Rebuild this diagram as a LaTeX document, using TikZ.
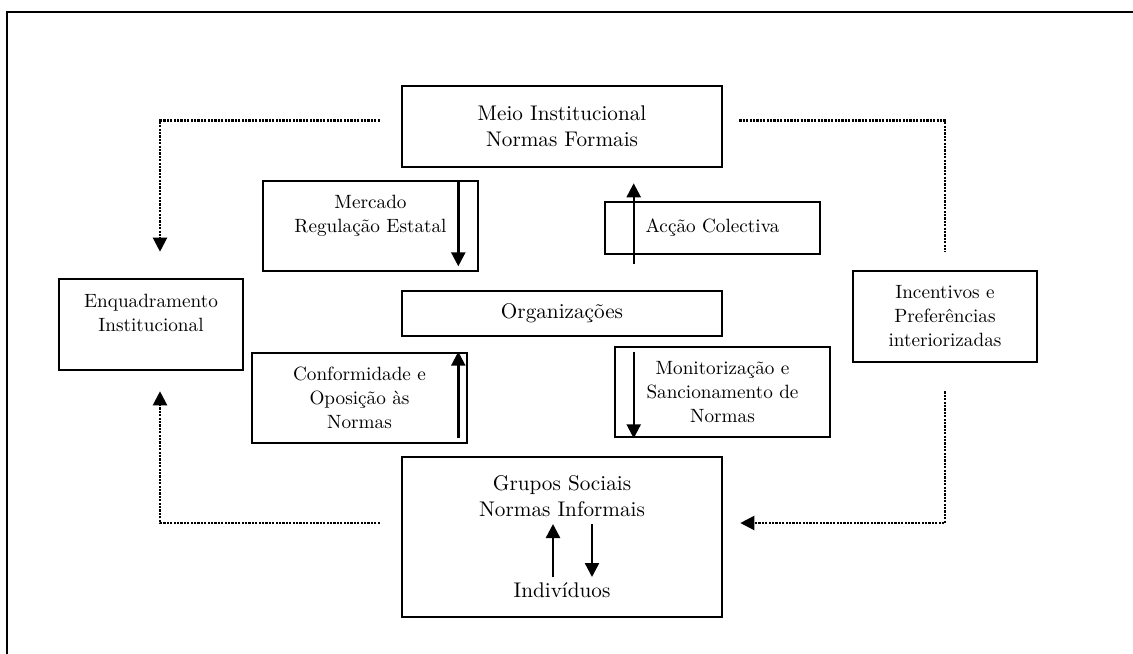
\documentclass[tikz,border=0pt]{standalone}
\usepackage{fontspec}
\usetikzlibrary{calc,arrows.meta}

\begin{document}
\begin{tikzpicture}[x=0.5pt,y=-0.5pt,
    font=\fontsize{10.6}{13}\selectfont,
    box/.style={draw,line width=1.3pt,align=center,inner sep=0pt},
    sbox/.style={box,font=\fontsize{9.6}{12}\selectfont},
    arr/.style={line width=1.2pt,-{Triangle[length=7pt,width=7pt]}},
    dots/.style={line width=1.1pt,dash pattern=on 1.1pt off 0.6pt}]
                \useasboundingbox(0,0)rectangle(1133,653);
                \draw[line width=1.4pt](1140,12)--(7,12)--(7,660);
                \node[box,minimum width=160pt,minimum height=40.5pt](meio)at(562,126.5){Meio Institucional\\Normas Formais};
                \node[sbox,minimum width=107.5pt,minimum height=45pt](merc)at(370.5,226){Mercado\\Regulação Estatal\\~};
                \node[sbox,minimum width=107.5pt,minimum height=26pt](accao)at(712.5,228){Acção Colectiva};
                \node[sbox,minimum width=92pt,minimum height=45.5pt](enq)at(151,324.5){Enquadramento\\Institucional\\~};
                \node[box,minimum width=160pt,minimum height=22.5pt](org)at(562,313.5){Organizações};
                \node[sbox,minimum width=92pt,minimum height=45.5pt](inc)at(945,316.5){Incentivos e\\Preferências\\interiorizadas};
                \node[sbox,minimum width=107.5pt,minimum height=45pt](conf)at(359.5,398){Conformidade e\\Oposição às\\Normas};
                \node[sbox,minimum width=107.5pt,minimum height=45pt](mon)at(722.5,392){Monitorização e\\Sancionamento de\\Normas};
                \node[box,minimum width=160pt,minimum height=80pt](grupos)at(562,537){};
                \node[align=center,inner sep=0pt](gs)at(562,496){Grupos Sociais\\Normas Informais};
                \node[inner sep=0pt](ind)at(562,590){Indivíduos};
                \draw[arr]($(merc.north east)+(-21,1)$)--($(merc.south east)+(-21,-6)$);
                \draw[arr]($(accao.south west)+(30,9)$)--($(accao.west|-meio.south)+(30,15)$);
                \draw[arr]($(conf.south east)+(-10,-6)$)--($(conf.north east)+(-10,0)$);
                \draw[arr]($(mon.north west)+(20,6)$)--($(mon.south west)+(20,0)$);
                \draw[arr]($(ind)+(-9,-13)$)--($(gs)+(-9,28)$);
                \draw[arr]($(gs)+(30,28)$)--($(ind)+(30,-13)$);
                \draw[dots,-{Triangle[length=7pt,width=7pt]}]($(meio.west)+(-21,-6)$)-|($(enq.north)+(9,-26)$);
                \draw[dots]($(meio.east)+(16,-6)$)-|($(inc.north)+(0,-18)$);
                \draw[dots,-{Triangle[length=7pt,width=7pt]}]($(inc.south)+(0,28)$)|-($(grupos.east)+(17,-14)$);
                \draw[dots,-{Triangle[length=7pt,width=7pt]}]($(grupos.west)+(-21,-14)$)-|($(enq.south)+(9,20)$);
            \end{tikzpicture}
\end{document}
